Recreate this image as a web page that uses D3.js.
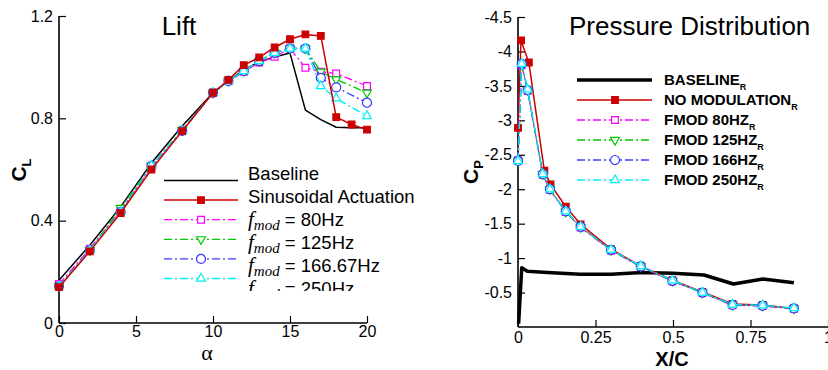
<!DOCTYPE html>
<html>
<head>
<meta charset="utf-8">
<script src="https://cdn.jsdelivr.net/npm/d3@7"></script>
<style>
  body { margin: 0; background: #fff; }
  svg { font-family: "Liberation Sans", Arial, sans-serif; }
</style>
</head>
<body>
<div id="chart"></div>
<script>
// ---- lift data (alpha in deg, CL) ----
const alphaFull = [0, 2, 4, 6, 8, 10, 11, 12, 13, 14, 15, 16, 17, 18, 19, 20];
const alphaMod = [0, 2, 4, 6, 8, 10, 11, 12, 13, 14, 15, 16, 17, 18, 20];
const clBaseline = [0.167, 0.304, 0.454, 0.625, 0.77, 0.90, 0.945, 0.99, 1.02, 1.04, 1.055, 0.832, 0.795, 0.765, 0.763, 0.763];
const clSinus = [0.14, 0.28, 0.43, 0.60, 0.75, 0.90, 0.95, 1.008, 1.038, 1.077, 1.109, 1.128, 1.122, 0.805, 0.776, 0.756];
const cl80 = [0.152, 0.29, 0.44, 0.61, 0.75, 0.90, 0.945, 0.982, 1.018, 1.041, 1.073, 0.998, 0.982, 0.975, 0.926];
const cl125 = [0.145, 0.285, 0.45, 0.615, 0.755, 0.90, 0.946, 0.985, 1.024, 1.056, 1.073, 1.073, 0.982, 0.952, 0.90];
const cl166 = [0.143, 0.284, 0.434, 0.614, 0.751, 0.90, 0.946, 0.985, 1.024, 1.056, 1.073, 1.073, 0.958, 0.921, 0.861];
const cl250 = [0.143, 0.284, 0.434, 0.614, 0.751, 0.90, 0.946, 0.985, 1.024, 1.056, 1.073, 1.073, 0.926, 0.878, 0.809];

// ---- pressure data (x/c, Cp) ----
const xcBaseline = [0.002, 0.012, 0.03, 0.095, 0.2, 0.3, 0.4, 0.5, 0.6, 0.695, 0.79, 0.89];
const cpBaseline = [-0.05, -0.86, -0.81, -0.79, -0.765, -0.765, -0.79, -0.78, -0.755, -0.624, -0.697, -0.643];
const xcNoMod = [0, 0.0097, 0.035, 0.085, 0.105, 0.154, 0.202, 0.3, 0.396, 0.498, 0.595, 0.692, 0.789, 0.89];
const cpNoMod = [-2.89, -4.16, -3.84, -2.27, -2.07, -1.746, -1.49, -1.13, -0.885, -0.68, -0.51, -0.334, -0.32, -0.27];
const xcMod = [0, 0.012, 0.031, 0.08, 0.103, 0.154, 0.202, 0.3, 0.396, 0.498, 0.595, 0.692, 0.789, 0.89];
const cp80 = [-2.42, -3.8, -3.43, -2.21, -1.99, -1.67, -1.445, -1.11, -0.875, -0.665, -0.495, -0.315, -0.305, -0.265];
const cp125 = [-2.41, -3.81, -3.44, -2.22, -2.0, -1.675, -1.45, -1.115, -0.88, -0.67, -0.5, -0.32, -0.31, -0.27];
const cp166 = [-2.41, -3.82, -3.44, -2.22, -2.0, -1.68, -1.455, -1.12, -0.88, -0.67, -0.5, -0.32, -0.31, -0.27];
const cp250 = [-2.41, -3.82, -3.45, -2.22, -2.0, -1.68, -1.455, -1.12, -0.885, -0.675, -0.5, -0.325, -0.315, -0.275];

// ---- tick labels ----
const liftXTicks = [0, 5, 10, 15, 20];
const liftYTicks = [0, 0.4, 0.8, 1.2];
const presXTicks = [0, 0.25, 0.5, 0.75, 1];
const presYTicks = [-0.5, -1, -1.5, -2, -2.5, -3, -3.5, -4, -4.5];

const liftLegend = ['Baseline', 'Sinusoidal Actuation', '80Hz', '125Hz', '166.67Hz', '250Hz'];
const presLegend = ['BASELINE', 'NO MODULATION', 'FMOD 80HZ', 'FMOD 125HZ', 'FMOD 166HZ', 'FMOD 250HZ'];

const RED = '#cc0000', MAG = '#ff00ff', GRN = '#00c800', BLU = '#3a3aff', CYN = '#00f0f0';
const DASHDOT = '8,3,2,3';

const styles = [
  { color: '#000', width: 1.5, dash: null, marker: null },
  { color: RED, width: 1.5, dash: null, marker: 'square' },
  { color: MAG, width: 1.3, dash: DASHDOT, marker: 'hsquare' },
  { color: GRN, width: 1.3, dash: DASHDOT, marker: 'tridown' },
  { color: BLU, width: 1.3, dash: DASHDOT, marker: 'circle' },
  { color: CYN, width: 1.3, dash: DASHDOT, marker: 'triup' },
];

const svg = d3.select('#chart').append('svg')
  .attr('width', 828).attr('height', 370);

function drawMarker(g, type, color, x, y) {
  let sym, rot = 0, size, fill = '#fff';
  if (type === 'square') { sym = d3.symbolSquare; size = 44; fill = color; }
  else if (type === 'hsquare') { sym = d3.symbolSquare; size = 46; }
  else if (type === 'circle') { sym = d3.symbolCircle; size = 64; }
  else if (type === 'triup') { sym = d3.symbolTriangle; size = 34; }
  else if (type === 'tridown') { sym = d3.symbolTriangle; size = 34; rot = 180; }
  g.append('path')
    .attr('d', d3.symbol().type(sym).size(size)())
    .attr('transform', `translate(${x},${y}) rotate(${rot})`)
    .attr('fill', fill)
    .attr('stroke', color)
    .attr('stroke-width', 1.2);
}

function drawSeries(g, xs, ys, xScale, yScale, st, lw) {
  const pts = xs.map((d, i) => [xScale(d), yScale(ys[i])]);
  g.append('path')
    .attr('d', d3.line()(pts))
    .attr('fill', 'none')
    .attr('stroke', st.color)
    .attr('stroke-width', lw || st.width)
    .attr('stroke-dasharray', st.dash)
    .attr('stroke-linejoin', 'round');
  if (st.marker) pts.forEach(p => drawMarker(g, st.marker, st.color, p[0], p[1]));
}

function drawAxes(g, x, y, xMajor, yMajor, xMinor, yMinor, xLabelPad) {
  const [x0, x1] = x.range();
  const [y0, y1] = y.range();
  const ax = g.append('g').attr('transform', `translate(0,${y0})`);
  ax.call(d3.axisBottom(x).tickValues(xMinor).tickSize(-4).tickFormat(''));
  ax.call(d3.axisBottom(x).tickValues(xMajor).tickSize(-7).tickPadding(xLabelPad).tickFormat(d => String(d)));
  const ay = g.append('g').attr('transform', `translate(${x0},0)`);
  ay.call(d3.axisLeft(y).tickValues(yMinor).tickSize(-4).tickFormat(''));
  ay.call(d3.axisLeft(y).tickValues(yMajor).tickSize(-7).tickPadding(6).tickFormat(d => String(d)));
  // plain axis lines, no outer ticks
  ax.selectAll('.domain').attr('d', `M${x0},0H${x1}`);
  ay.selectAll('.domain').attr('d', `M0,${y0}V${y1}`);
  g.selectAll('.domain').attr('stroke', '#000').attr('stroke-width', 1.6);
  g.selectAll('.tick line').attr('stroke', '#000').attr('stroke-width', 1.2);
  g.selectAll('.tick text').attr('font-size', 16).attr('fill', '#000')
    .attr('font-family', '"Liberation Sans", Arial, sans-serif');
}

// ================= LIFT =================
const xL = d3.scaleLinear().domain([0, 20]).range([59, 367]);
const yL = d3.scaleLinear().domain([0, 1.2]).range([323, 16]);
const gL = svg.append('g');

drawAxes(gL, xL, yL, liftXTicks, liftYTicks, d3.range(0, 21, 1), d3.range(0, 1.21, 0.1), 3);

drawSeries(gL, alphaFull, clBaseline, xL, yL, styles[0]);
drawSeries(gL, alphaMod, cl80, xL, yL, styles[2]);
drawSeries(gL, alphaMod, cl125, xL, yL, styles[3]);
drawSeries(gL, alphaMod, cl166, xL, yL, styles[4]);
drawSeries(gL, alphaMod, cl250, xL, yL, styles[5]);
drawSeries(gL, alphaFull, clSinus, xL, yL, styles[1]);

gL.append('text').attr('x', 179).attr('y', 35).attr('text-anchor', 'middle')
  .attr('font-size', 26).text('Lift');
gL.append('text').attr('x', 207).attr('y', 360).attr('text-anchor', 'middle')
  .attr('font-family', '"Liberation Serif", "Times New Roman", serif')
  .attr('font-size', 22).text('α');
const cl = gL.append('text').attr('transform', 'translate(26,170) rotate(-90)')
  .attr('text-anchor', 'middle').attr('font-weight', 'bold').attr('font-size', 21);
cl.append('tspan').text('C');
cl.append('tspan').attr('dy', 5).attr('font-size', 13).text('L');

// lift legend (clipped at its frame like the original)
svg.append('clipPath').attr('id', 'legclip')
  .append('rect').attr('x', 150).attr('y', 160).attr('width', 270).attr('height', 131);
const legL = svg.append('g').attr('clip-path', 'url(#legclip)');
liftLegend.forEach((name, i) => {
  const yy = 180.5 + i * 19.6;
  const ty = 180 + i * 22.9;
  const st = styles[i];
  legL.append('line').attr('x1', 164).attr('x2', 238).attr('y1', yy).attr('y2', yy)
    .attr('stroke', st.color).attr('stroke-width', st.width).attr('stroke-dasharray', st.dash);
  if (st.marker) drawMarker(legL, st.marker, st.color, 201, yy);
  const t = legL.append('text').attr('x', 248).attr('y', ty).attr('font-size', 18.5);
  if (i < 2) {
    t.text(name);
  } else {
    t.append('tspan').attr('font-family', '"Liberation Serif", "Times New Roman", serif')
      .attr('font-style', 'italic').attr('font-size', 21).text('f');
    t.append('tspan').attr('font-family', '"Liberation Serif", "Times New Roman", serif')
      .attr('font-style', 'italic').attr('font-size', 15).attr('dy', 4).text('mod');
    t.append('tspan').attr('dy', -4).text(' = ' + name);
  }
});

// ================= PRESSURE =================
const xP = d3.scaleLinear().domain([0, 1]).range([518, 828]);
const yP = d3.scaleLinear().domain([0, -4.5]).range([327, 17]);
const gP = svg.append('g');

drawAxes(gP, xP, yP, presXTicks, presYTicks, d3.range(0, 1.001, 0.05), d3.range(0, -4.51, -0.1), 5);

drawSeries(gP, xcBaseline, cpBaseline, xP, yP, styles[0], 3.5);
drawSeries(gP, xcNoMod, cpNoMod, xP, yP, styles[1]);
drawSeries(gP, xcMod, cp80, xP, yP, styles[2]);
drawSeries(gP, xcMod, cp125, xP, yP, styles[3]);
drawSeries(gP, xcMod, cp166, xP, yP, styles[4]);
drawSeries(gP, xcMod, cp250, xP, yP, styles[5]);

gP.append('text').attr('x', 569).attr('y', 35).attr('font-size', 26).text('Pressure Distribution');
gP.append('text').attr('x', 672).attr('y', 366).attr('text-anchor', 'middle')
  .attr('font-weight', 'bold').attr('font-size', 20).text('X/C');
const cp = gP.append('text').attr('transform', 'translate(478,172) rotate(-90)')
  .attr('text-anchor', 'middle').attr('font-weight', 'bold').attr('font-size', 21);
cp.append('tspan').text('C');
cp.append('tspan').attr('dy', 5).attr('font-size', 13).text('P');

// pressure legend
const legP = svg.append('g');
presLegend.forEach((name, i) => {
  const yy = 80 + i * 20;
  const st = styles[i];
  legP.append('line').attr('x1', 577).attr('x2', 652).attr('y1', yy).attr('y2', yy)
    .attr('stroke', st.color).attr('stroke-width', i === 0 ? 3.5 : st.width)
    .attr('stroke-dasharray', st.dash);
  if (st.marker) drawMarker(legP, st.marker, st.color, 615, yy);
  const t = legP.append('text').attr('x', 664).attr('y', yy + 5)
    .attr('font-size', 15).attr('font-weight', 'bold');
  t.append('tspan').text(name);
  t.append('tspan').attr('dy', 5).attr('font-size', 9).text('R');
});
</script>
</body>
</html>
